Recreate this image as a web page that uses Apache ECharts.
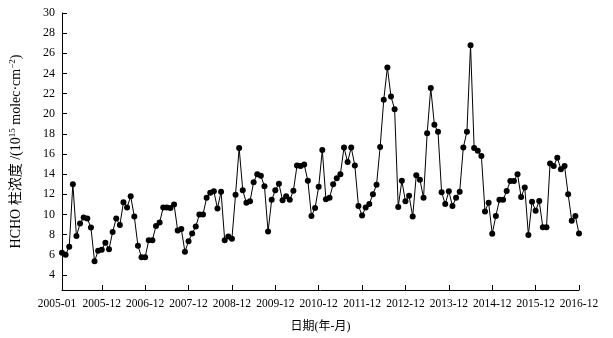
<!DOCTYPE html>
<html>
<head>
<meta charset="utf-8">
<script src="https://cdn.jsdelivr.net/npm/echarts@6/dist/echarts.min.js"></script>
<style>html,body{margin:0;padding:0;background:#fff}#c{width:613px;height:338px}</style>
</head>
<body>
<div id="c"></div>
<script>
// Monthly categories 2005-01 .. 2016-12
const years = [2005,2006,2007,2008,2009,2010,2011,2012,2013,2014,2015,2016];
const categories = [];
years.forEach(y => { for (let m = 1; m <= 12; m++) categories.push(y + '-' + (m < 10 ? '0' + m : m)); });

// Tick labels shown on the time axis
const xFirstLabel = ['2005-01'];
const xTickLabels = ['2005-12','2006-12','2007-12','2008-12','2009-12','2010-12',
                     '2011-12','2012-12','2013-12','2014-12','2015-12','2016-12'];

// HCHO column values (10^15 molec·cm^-2)
const hcho2005_2007 = [6.2,6.0,6.8,13.0,7.85,9.1,9.7,9.6,8.7,5.35,6.4,6.5,
                       7.2,6.55,8.25,9.6,8.95,11.2,10.7,11.8,9.8,6.9,5.75,5.75,
                       7.45,7.45,8.85,9.2,10.7,10.7,10.65,11.0,8.4,8.55,6.3,7.35];
const hcho2008_2010 = [8.1,8.8,10.0,10.0,11.65,12.15,12.3,10.6,12.25,7.45,7.8,7.6,
                       11.95,16.6,12.4,11.15,11.3,13.2,14.0,13.85,12.8,8.3,11.45,12.4,
                       13.05,11.4,11.8,11.45,12.35,14.85,14.8,14.95,13.35,9.85,10.65,12.75];
const hcho2011_2013 = [16.4,11.5,11.65,13.0,13.6,14.0,16.65,15.2,16.65,14.85,10.85,9.9,
                       10.7,11.05,12.0,12.95,16.7,21.4,24.6,21.7,20.45,10.75,13.35,11.3,
                       11.85,9.8,13.9,13.45,11.65,18.05,22.55,18.9,18.2,12.2,11.05,12.3];
const hcho2014_2016 = [10.85,11.65,12.25,16.65,18.2,26.8,16.6,16.33,15.8,10.3,11.17,8.08,
                       9.85,11.45,11.45,12.32,13.32,13.32,14.0,11.73,12.68,7.95,11.27,10.38,
                       11.33,8.72,8.72,15.07,14.8,15.63,14.5,14.8,12.0,9.37,9.84,8.1];
const hcho = [].concat(hcho2005_2007, hcho2008_2010, hcho2011_2013, hcho2014_2016);

const yTicks = [4,6,8,10,12,14,16,18,20,22,24,26,28,30];

// positions (month index) of the x tick labels, looked up from the categories
const xTickIdx = xTickLabels.map(l => categories.indexOf(l));
const xFirstIdx = xFirstLabel.map(l => categories.indexOf(l));
const seriesData = hcho.map((v, i) => [i, v]);

const font = '"Liberation Serif", "Times New Roman", "Noto Sans CJK SC", serif';
const labelFmt = v => categories[Math.round(v)];

const chart = echarts.init(document.getElementById('c'), null, {renderer: 'canvas'});
chart.setOption({
  animation: false,
  backgroundColor: '#fff',
  grid: {left: 62, right: 34, top: 13, bottom: 48, containLabel: false},
  xAxis: [{
    type: 'value',
    min: 0,
    max: categories.length - 1,
    name: '日期(年-月)',
    nameLocation: 'middle',
    nameGap: 31,
    nameTextStyle: {fontFamily: font, fontSize: 12, color: '#000'},
    axisLine: {show: true, lineStyle: {color: '#000', width: 1}},
    axisTick: {show: true, inside: true, length: 5, customValues: xTickIdx, lineStyle: {color: '#000'}},
    axisLabel: {
      customValues: xTickIdx, hideOverlap: false, margin: 8,
      formatter: labelFmt,
      fontFamily: font, fontSize: 11.5, color: '#000'
    },
    splitLine: {show: false}
  }, {
    type: 'value',
    position: 'bottom',
    min: 0,
    max: categories.length - 1,
    axisLine: {show: false},
    axisTick: {show: false},
    axisLabel: {
      customValues: xFirstIdx, margin: 8,
      formatter: v => '{a|' + labelFmt(v) + '}',
      rich: {a: {fontFamily: font, fontSize: 11.5, color: '#000', padding: [0, 10, 0, 0]}},
      fontFamily: font, fontSize: 11.5, color: '#000'
    },
    splitLine: {show: false}
  }],
  yAxis: {
    type: 'value',
    min: 2.5,
    max: 30,
    name: '{t|HCHO 柱浓度 /(10}{sup|15}{t| molec·cm}{sup|−2}{t|)}',
    nameLocation: 'middle',
    nameGap: 38,
    nameRotate: 90,
    nameTextStyle: {
      fontFamily: font, fontSize: 13, color: '#000',
      rich: {
        t: {fontFamily: font, fontSize: 14, color: '#000'},
        sup: {fontFamily: font, fontSize: 9, color: '#000', verticalAlign: 'top', padding: [0, 0, 7, 0]}
      }
    },
    axisLine: {show: true, lineStyle: {color: '#000', width: 1}},
    axisTick: {show: true, inside: true, length: 5, customValues: yTicks, lineStyle: {color: '#000'}},
    axisLabel: {customValues: yTicks, margin: 7, fontFamily: font, fontSize: 12, color: '#000'},
    splitLine: {show: false}
  },
  series: [{
    type: 'line',
    xAxisIndex: 0,
    data: seriesData,
    symbol: 'circle',
    symbolSize: 6,
    showAllSymbol: true,
    itemStyle: {color: '#000'},
    lineStyle: {color: '#000', width: 1}
  }]
});
</script>
</body>
</html>
